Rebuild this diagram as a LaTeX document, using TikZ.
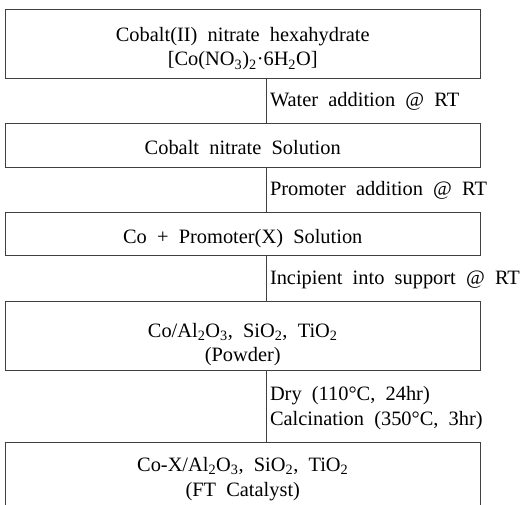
\documentclass[tikz,border=0pt]{standalone}
\usepackage{fontspec}
\setmainfont{Liberation Serif}[WordSpace=2]
\usepackage{tikz}
\usetikzlibrary{
    positioning
}
\definecolor{LineGray}{RGB}{64,64,64}

\begin{document}
\begin{tikzpicture}[
            x=1pt, y=-1pt,
            font=\fontsize{20.4}{24.5}\selectfont,
            line width=1pt,
            stagebox/.style={draw=LineGray, minimum width=474.5pt, inner sep=0pt, align=center, text height=18pt, text depth=0pt},
            steplabel/.style={anchor=south west, inner sep=0pt, align=left, text depth=0pt, xshift=3.5pt, yshift=16pt},
        ]
        \useasboundingbox (0,0) rectangle (520,505);

        % Line of the process
        \def\flowX{266}
        \coordinate (axis) at (\flowX,0);

        % Stages
        \node[stagebox, minimum height=69.5pt, text height=43.5pt] (nitrate) at (242.75,44.25)
            {Cobalt(II) nitrate hexahydrate\\{}[Co(NO\textsubscript{3})\textsubscript{2}\textperiodcentered 6H\textsubscript{2}O]};
        \node[stagebox, minimum height=44pt, below=44pt of nitrate] (solution) {Cobalt nitrate Solution};
        \node[stagebox, minimum height=43pt, below=44pt of solution] (promoted) {Co + Promoter(X) Solution};
        \node[stagebox, minimum height=69pt, text height=51pt, below=45pt of promoted] (powder)
            {Co/Al\textsubscript{2}O\textsubscript{3}, SiO\textsubscript{2}, TiO\textsubscript{2}\\(Powder)};
        \node[stagebox, minimum height=72pt, text height=36pt, below=70pt of powder] (catalyst)
            {Co-X/Al\textsubscript{2}O\textsubscript{3}, SiO\textsubscript{2}, TiO\textsubscript{2}\\(FT Catalyst)};

        % Steps between stages
        \draw[draw=LineGray] (nitrate.south -| axis) -- (solution.north -| axis) node[steplabel] {Water addition @ RT};
        \draw[draw=LineGray] (solution.south -| axis) -- (promoted.north -| axis) node[steplabel] {Promoter addition @ RT};
        \draw[draw=LineGray] (promoted.south -| axis) -- (powder.north -| axis) node[steplabel] {Incipient into support @ RT};
        \draw[draw=LineGray] (powder.south -| axis) -- (catalyst.north -| axis) node[steplabel] {Dry (110°C, 24hr)\\Calcination (350°C, 3hr)};
\end{tikzpicture}
\end{document}
